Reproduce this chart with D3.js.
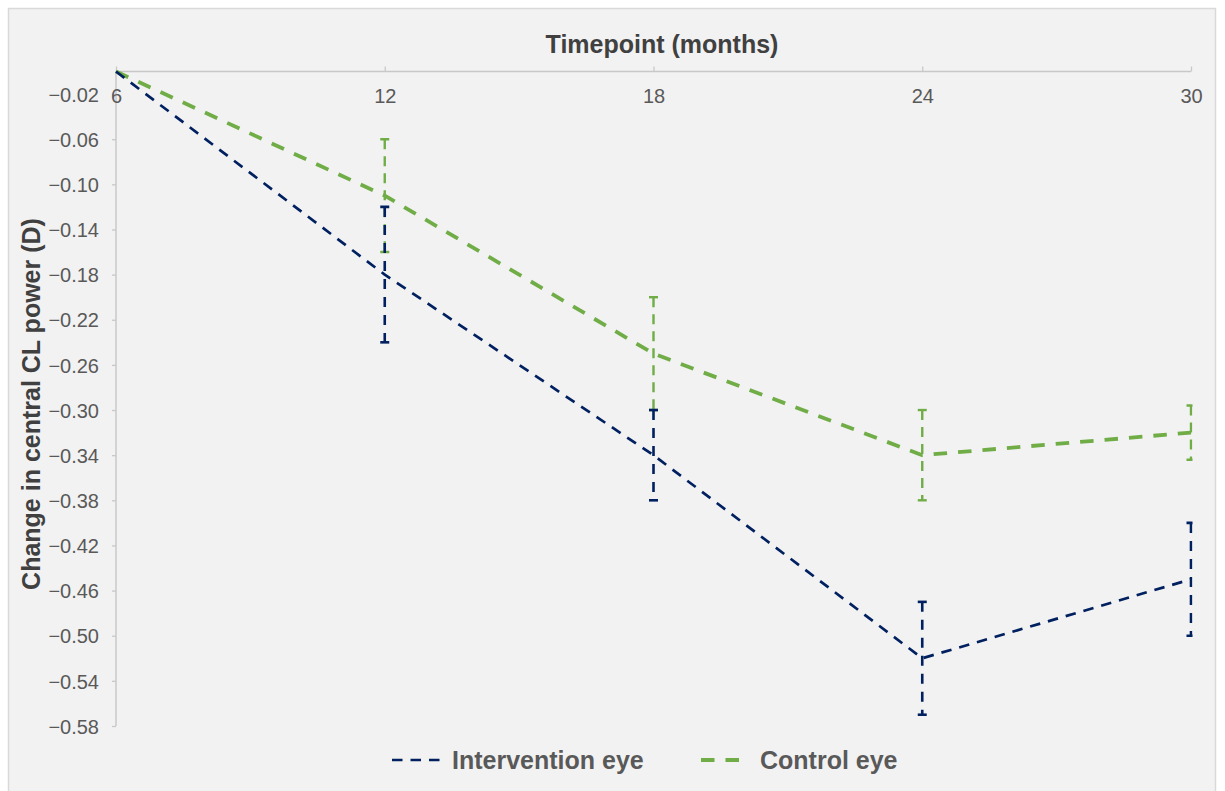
<!DOCTYPE html>
<html>
<head>
<meta charset="utf-8">
<script src="https://cdn.jsdelivr.net/npm/d3@7"></script>
<style>
  html, body { margin: 0; padding: 0; background: #ffffff; }
  svg { display: block; font-family: "Liberation Sans", Arial, sans-serif; }
</style>
</head>
<body>
<svg id="chart" width="1225" height="791"></svg>
<script>
// ---- data ----
const timepoints = [6, 12, 18, 24, 30];
const xTickLabels = ["6", "12", "18", "24", "30"];
const yTickValues = [-0.58, -0.54, -0.50, -0.46, -0.42, -0.38, -0.34, -0.30, -0.26, -0.22, -0.18, -0.14, -0.10, -0.06, -0.02];

const interventionMean = [0, -0.18, -0.34, -0.52, -0.45];
const interventionLow  = [null, -0.24, -0.38, -0.57, -0.50];
const interventionHigh = [null, -0.12, -0.30, -0.47, -0.40];

const controlMean = [0, -0.11, -0.25, -0.34, -0.32];
const controlLow  = [null, -0.16, -0.30, -0.38, -0.344];
const controlHigh = [null, -0.06, -0.20, -0.30, -0.296];

const seriesNames = ["Intervention eye", "Control eye"];
const seriesColors = ["#002060", "#70AD47"];

// ---- layout ----
(function () {
const svg = d3.select("#chart");
const pLeft = 116, pRight = 1191, pTop = 71.5, pBottom = 726;

svg.append("rect").attr("x", 8.5).attr("y", 8.5).attr("width", 1207).attr("height", 800)
  .attr("fill", "#f2f2f2").attr("stroke", "#d9d9d9").attr("stroke-width", 1.5);

const x = d3.scaleLinear().domain([6, 30]).range([pLeft, pRight]);
const y = d3.scaleLinear().domain([-0.58, 0]).range([pBottom, pTop]);

const axisColor = "#c8c8c8";
const textColor = "#595959";

// y axis
const yAxis = svg.append("g").attr("transform", `translate(${pLeft},0)`)
  .call(d3.axisLeft(y).tickValues(yTickValues).tickSize(4).tickPadding(13)
        .tickFormat(d3.format(".2f")));
yAxis.select(".domain").remove();
yAxis.selectAll(".tick line").attr("stroke", axisColor).attr("stroke-width", 1.3);
yAxis.selectAll(".tick text").attr("fill", textColor).attr("font-size", 20)
  .attr("font-family", "Liberation Sans, Arial, sans-serif").attr("dy", "0.36em");
svg.append("line").attr("x1", pLeft).attr("x2", pLeft).attr("y1", pTop).attr("y2", pBottom)
  .attr("stroke", axisColor).attr("stroke-width", 1.5);

// x axis (top)
const xAxis = svg.append("g").attr("transform", `translate(0,${pTop})`)
  .call(d3.axisTop(x).tickValues(timepoints).tickSize(5)
        .tickFormat((d, i) => xTickLabels[i]));
xAxis.select(".domain").remove();
xAxis.selectAll(".tick line").attr("stroke", axisColor).attr("stroke-width", 1.3);
xAxis.selectAll(".tick text").attr("fill", textColor).attr("font-size", 20)
  .attr("font-family", "Liberation Sans, Arial, sans-serif")
  .attr("y", 31.5).attr("dy", 0);
svg.append("line").attr("x1", pLeft).attr("x2", pRight).attr("y1", pTop).attr("y2", pTop)
  .attr("stroke", axisColor).attr("stroke-width", 1.5);

// axis titles
svg.append("text").attr("x", 662).attr("y", 53).attr("text-anchor", "middle")
  .attr("font-size", 25).attr("font-weight", "bold").attr("fill", "#404040")
  .text("Timepoint (months)");
svg.append("text").attr("transform", "translate(40,404) rotate(-90)")
  .attr("text-anchor", "middle").attr("font-size", 25).attr("font-weight", "bold")
  .attr("fill", "#404040").text("Change in central CL power (D)");

// clip for plot
svg.append("clipPath").attr("id", "plotclip").append("rect")
  .attr("x", pLeft - 20).attr("y", pTop - 20).attr("width", pRight - pLeft + 21.5).attr("height", pBottom - pTop + 40);
const plot = svg.append("g").attr("clip-path", "url(#plotclip)");

const styles = [
  { width: 2.7, dash: "10.5,8", ebWidth: 2.6, ebDash: "10,8", cap: 9 },
  { width: 3.8, dash: "13.5,11", ebWidth: 2.4, ebDash: "10,7", cap: 9 }
];
const means = [interventionMean, controlMean];
const lows = [interventionLow, controlLow];
const highs = [interventionHigh, controlHigh];

[1, 0].forEach(s => {
  const st = styles[s];
  const col = seriesColors[s];
  const line = d3.line().x((d, i) => x(timepoints[i])).y(d => y(d));
  plot.append("path").datum(means[s]).attr("d", line)
    .attr("fill", "none").attr("stroke", col).attr("stroke-width", st.width)
    .attr("stroke-dasharray", st.dash).attr("stroke-linejoin", "round");
  timepoints.forEach((t, i) => {
    if (lows[s][i] === null) return;
    const cx = x(t);
    plot.append("line").attr("x1", cx).attr("x2", cx)
      .attr("y1", y(highs[s][i])).attr("y2", y(lows[s][i]))
      .attr("stroke", col).attr("stroke-width", st.ebWidth).attr("stroke-dasharray", st.ebDash);
    [highs[s][i], lows[s][i]].forEach(v => {
      plot.append("line").attr("x1", cx - st.cap / 2).attr("x2", cx + st.cap / 2)
        .attr("y1", y(v)).attr("y2", y(v))
        .attr("stroke", col).attr("stroke-width", st.ebWidth);
    });
  });
});

// legend
const legend = [
  { x1: 392, x2: 440, tx: 452, name: seriesNames[0], s: 0 },
  { x1: 701, x2: 741, tx: 760, name: seriesNames[1], s: 1 }
];
legend.forEach(l => {
  svg.append("line").attr("x1", l.x1).attr("x2", l.x2).attr("y1", 760).attr("y2", 760)
    .attr("stroke", seriesColors[l.s]).attr("stroke-width", styles[l.s].width)
    .attr("stroke-dasharray", styles[l.s].dash);
  svg.append("text").attr("x", l.tx).attr("y", 768.5).attr("font-size", 25)
    .attr("font-weight", "bold").attr("fill", textColor).text(l.name);
});
})();
</script>
</body>
</html>
